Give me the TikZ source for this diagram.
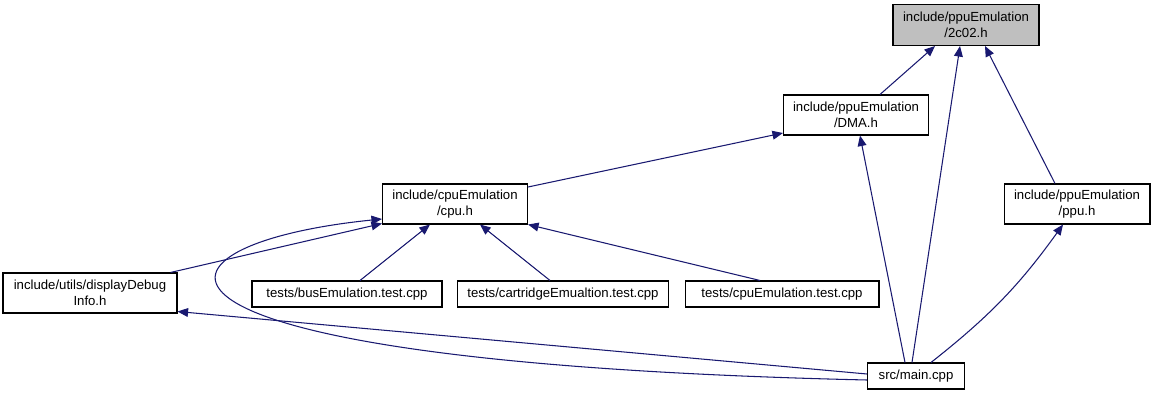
\documentclass[tikz,border=0pt]{standalone}
\usepackage{fontspec}
\setmainfont{Liberation Sans}
\usetikzlibrary{arrows.meta, positioning}
\definecolor{edgeBlue}{HTML}{191970}
\definecolor{boxGray}{HTML}{BFBFBF}

\begin{document}
\begin{tikzpicture}[x=0.02cm, y=-0.02cm,
box/.style={rectangle, draw=black, line width=0.6pt, align=center, inner sep=0pt, font=\fontsize{7.5}{9}\selectfont, minimum width=2.92cm, minimum height=0.8cm},
onebox/.style={box, minimum height=0.52cm},
arrow/.style={-{Triangle[length=6pt, width=5pt]}, line width=0.6pt, edgeBlue}
]
\useasboundingbox (0,0) rectangle (1156,395);

\node[box, fill=boxGray, minimum height=0.82cm] (c02) at (966,25) {include/ppuEmulation\\/2c02.h};
\node[box, minimum width=2.9cm] (dma) at (856,115) {include/ppuEmulation\\/DMA.h};
\node[box, minimum width=2.9cm] (cpu) at (455,204) {include/cpuEmulation\\/cpu.h};
\node[box] (ppu) at (1077,204) {include/ppuEmulation\\/ppu.h};
\node[box, minimum width=3.48cm] (disp) at (90,293) {include/utils/displayDebug\\Info.h};
\node[onebox, minimum width=3.8cm] (bus) at (347,294) {tests/busEmulation.test.cpp};
\node[onebox, minimum width=4.22cm] (cart) at (563,294) {tests/cartridgeEmualtion.test.cpp};
\node[onebox, minimum width=3.88cm] (cput) at (782,294) {tests/cpuEmulation.test.cpp};
\node[onebox, minimum width=1.94cm] (main) at (916,376) {src/main.cpp};

% includes of 2c02.h
\draw[arrow] ([xshift=0.48cm]dma.north) -- ([xshift=-0.62cm]c02.south);
\draw[arrow] ([xshift=-0.08cm]main.north) -- ([xshift=-0.12cm]c02.south);
\draw[arrow] ([xshift=-0.44cm]ppu.north) -- ([xshift=0.38cm]c02.south);

% includes of DMA.h and ppu.h
\draw[arrow] ([yshift=0.34cm]cpu.east) -- ([yshift=-0.36cm]dma.west);
\draw[arrow] ([xshift=-0.22cm]main.north) -- ([xshift=0.08cm]dma.south);
\draw[arrow] ([xshift=0.3cm]main.north) to[bend right=8] ([xshift=-0.28cm]ppu.south);

% includes of cpu.h
\draw[arrow] ([xshift=-0.14cm]disp.north east) -- ([yshift=0.02cm]cpu.south west);
\draw[arrow] ([yshift=-0.08cm]main.west) .. controls (90,362) and (125,245) .. ([yshift=-0.3cm]cpu.west);
\draw[arrow] ([xshift=0.26cm]bus.north) -- ([xshift=-0.5cm]cpu.south);
\draw[arrow] ([xshift=-0.26cm]cart.north) -- ([xshift=0.5cm]cpu.south);
\draw[arrow] ([xshift=-0.44cm]cput.north) -- (cpu.south east);

% displayDebugInfo.h
\draw[arrow] ([yshift=0.04cm]main.west) -- ([yshift=0.04cm]disp.south east);
\end{tikzpicture}
\end{document}
